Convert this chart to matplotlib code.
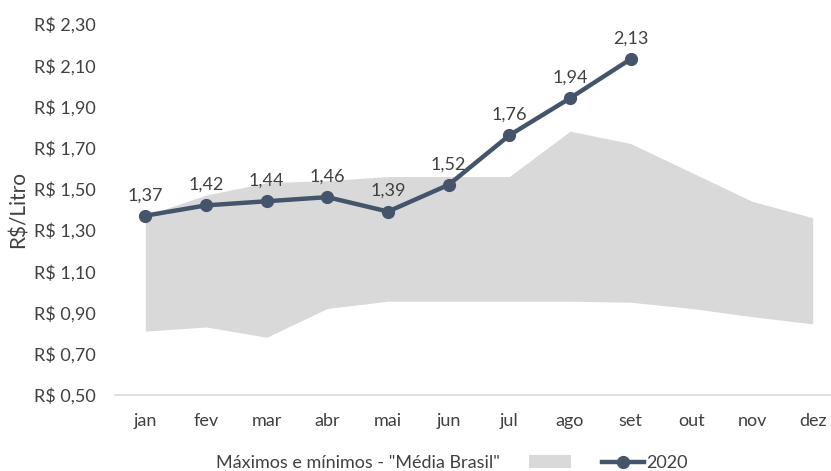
import matplotlib.pyplot as plt
from matplotlib.patches import Patch
from matplotlib.lines import Line2D

plt.rcParams['font.family'] = ['Lato', 'DejaVu Sans']

# dados
meses = ["jan", "fev", "mar", "abr", "mai", "jun", "jul", "ago", "set", "out", "nov", "dez"]
maximos = [1.37, 1.47, 1.53, 1.54, 1.56, 1.56, 1.56, 1.78, 1.72, 1.58, 1.44, 1.36]
minimos = [0.81, 0.83, 0.78, 0.92, 0.955, 0.955, 0.955, 0.955, 0.95, 0.92, 0.88, 0.845]
precos_2020 = [1.37, 1.42, 1.44, 1.46, 1.39, 1.52, 1.76, 1.94, 2.13]
y_ticks = [0.50, 0.70, 0.90, 1.10, 1.30, 1.50, 1.70, 1.90, 2.10, 2.30]

cor_linha = "#44546a"
cor_area = "#d9d9d9"
cor_texto = "#404040"

fig = plt.figure(figsize=(8.31, 4.71), dpi=100)
ax = fig.add_axes([115 / 831, 76 / 471, 716 / 831, 371 / 471])

x = list(range(len(meses)))
ax.fill_between(x, minimos, maximos, color=cor_area, linewidth=0)

x20 = list(range(len(precos_2020)))
ax.plot(x20, precos_2020, color=cor_linha, linewidth=3.2, marker="o", markersize=8.5)
for xi, v in zip(x20, precos_2020):
    ax.annotate(f"{v:.2f}".replace(".", ","), (xi, v), xytext=(0, 9),
                textcoords="offset points", ha="center", va="bottom",
                fontsize=13, color=cor_texto)

ax.set_xlim(-0.5, (831 - 145) / 60.7)
ax.set_ylim(0.5, 2.3)
ax.set_xticks(x)
ax.set_xticklabels(meses)
ax.set_yticks(y_ticks)
ax.set_yticklabels([f"R$ {v:.2f}".replace(".", ",") for v in y_ticks])
ax.tick_params(axis="both", length=0, labelsize=13, colors=cor_texto)
ax.tick_params(axis="x", pad=13)
ax.tick_params(axis="y", pad=14)

for s in ["top", "right", "left"]:
    ax.spines[s].set_visible(False)
ax.spines["bottom"].set_color(cor_area)
ax.spines["bottom"].set_linewidth(1.2)

ax.set_ylabel("R$/Litro", fontsize=15, color=cor_texto, labelpad=4)

handles = [
    Patch(facecolor="white", edgecolor="none"),
    Patch(facecolor=cor_area, edgecolor="none"),
    Line2D([], [], color=cor_linha, linewidth=3.2, marker="o", markersize=8.5),
]
labels = ['Máximos e mínimos - "Média Brasil"', "", "2020"]
fig.legend(handles, labels, loc="center", bbox_to_anchor=(430 / 831, 1 - 463 / 471),
           ncol=3, frameon=False, fontsize=13, labelcolor=cor_texto,
           handlelength=2.3, handletextpad=0.15, columnspacing=1.6)

fig.savefig("out.png", dpi=100)
